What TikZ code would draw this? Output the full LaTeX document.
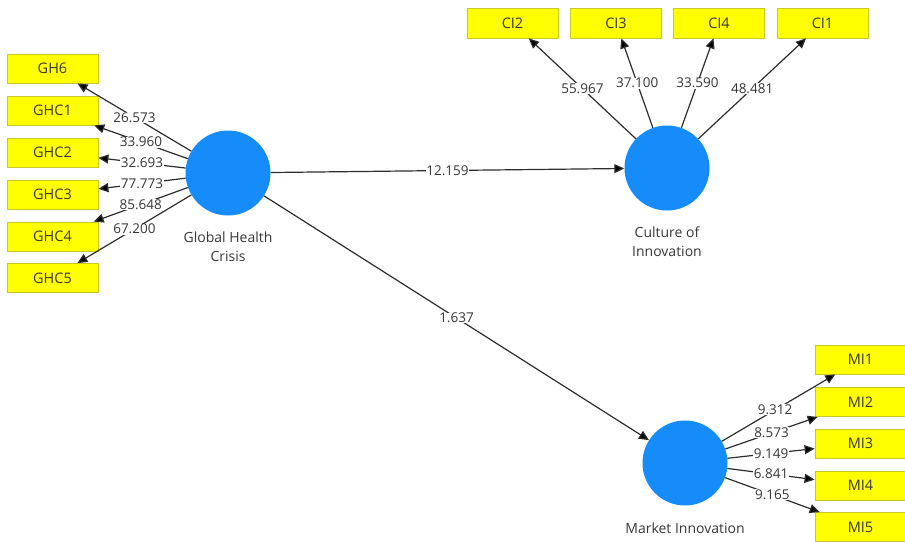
\documentclass[tikz,border=0pt]{standalone}
\usepackage{fontspec}
\setmainfont{Open Sans}
\usetikzlibrary{arrows.meta}
\definecolor{lvblue}{RGB}{22,140,250}
\definecolor{boxyel}{RGB}{255,255,0}
\definecolor{boxline}{RGB}{200,200,40}
\definecolor{txt}{RGB}{55,55,55}
\definecolor{edgec}{RGB}{45,45,45}
\begin{document}
\begin{tikzpicture}[x=1pt,y=-1pt,
 lv/.style={circle,fill=lvblue,minimum size=85pt,inner sep=0pt},
 mv/.style={rectangle,fill=boxyel,draw=boxline,line width=0.8pt,minimum width=91pt,minimum height=29pt,inner sep=0pt,font=\fontsize{14.5}{16}\selectfont,text=txt},
 lvlabel/.style={font=\fontsize{14}{19}\selectfont,text=txt,align=center},
 conn/.style={draw=edgec,line width=1.2pt,-{Triangle[length=10pt,width=9pt,fill=black]}},
 val/.style={fill=white,inner sep=0.5pt,font=\fontsize{13.5}{15}\selectfont,text=txt}
]
\useasboundingbox (0,0) rectangle (905,541);
% latent variables
\node[lv] (gh) at (228,173) {};
\node[lv] (ci) at (667,168) {};
\node[lv] (mi) at (685,463) {};
\node[lvlabel] (ghl) at (228,246.5) {Global Health\\Crisis};
\node[lvlabel] (cil) at (667,241.5) {Culture of\\Innovation};
\node[lvlabel] (mil) at (685,528) {Market Innovation};
% GH indicators
\node[mv] (g6) at (52.5,68.5) {GH6};
\node[mv] (g1) at (52.5,110.5) {GHC1};
\node[mv] (g2) at (52.5,152.5) {GHC2};
\node[mv] (g3) at (52.5,194.5) {GHC3};
\node[mv] (g4) at (52.5,236.5) {GHC4};
\node[mv] (g5) at (52.5,278) {GHC5};
% CI indicators
\node[mv,minimum height=30pt] (c2) at (512.5,23) {CI2};
\node[mv,minimum height=30pt] (c3) at (616,23) {CI3};
\node[mv,minimum height=30pt] (c4) at (719,23) {CI4};
\node[mv,minimum height=30pt] (c1) at (822.5,23) {CI1};
% MI indicators
\node[mv] (m1) at (860.5,359.5) {MI1};
\node[mv] (m2) at (860.5,402) {MI2};
\node[mv] (m3) at (860.5,443.5) {MI3};
\node[mv] (m4) at (860.5,485.5) {MI4};
\node[mv] (m5) at (860.5,527) {MI5};
% structural paths
\draw[conn] (gh) -- node[val] {12.159} (ci);
\draw[conn] (gh) -- node[val] {1.637} (mi);
% outer loadings GH
\draw[conn] (gh) -- node[val] {26.573} (g6);
\draw[conn] (gh) -- node[val] {33.960} (g1);
\draw[conn] (gh) -- node[val] {32.693} (g2);
\draw[conn] (gh) -- node[val] {77.773} (g3);
\draw[conn] (gh) -- node[val] {85.648} (g4);
\draw[conn] (gh) -- node[val] {67.200} (g5);
% outer loadings CI
\draw[conn] (ci) -- node[val] {55.967} (c2);
\draw[conn] (ci) -- node[val] {37.100} (c3);
\draw[conn] (ci) -- node[val] {33.590} (c4);
\draw[conn] (ci) -- node[val] {48.481} (c1);
% outer loadings MI
\draw[conn] (mi) -- node[val,pos=0.47] {9.312} (m1);
\draw[conn] (mi) -- node[val] {8.573} (m2);
\draw[conn] (mi) -- node[val] {9.149} (m3);
\draw[conn] (mi) -- node[val] {6.841} (m4);
\draw[conn] (mi) -- node[val] {9.165} (m5);
\end{tikzpicture}
\end{document}
